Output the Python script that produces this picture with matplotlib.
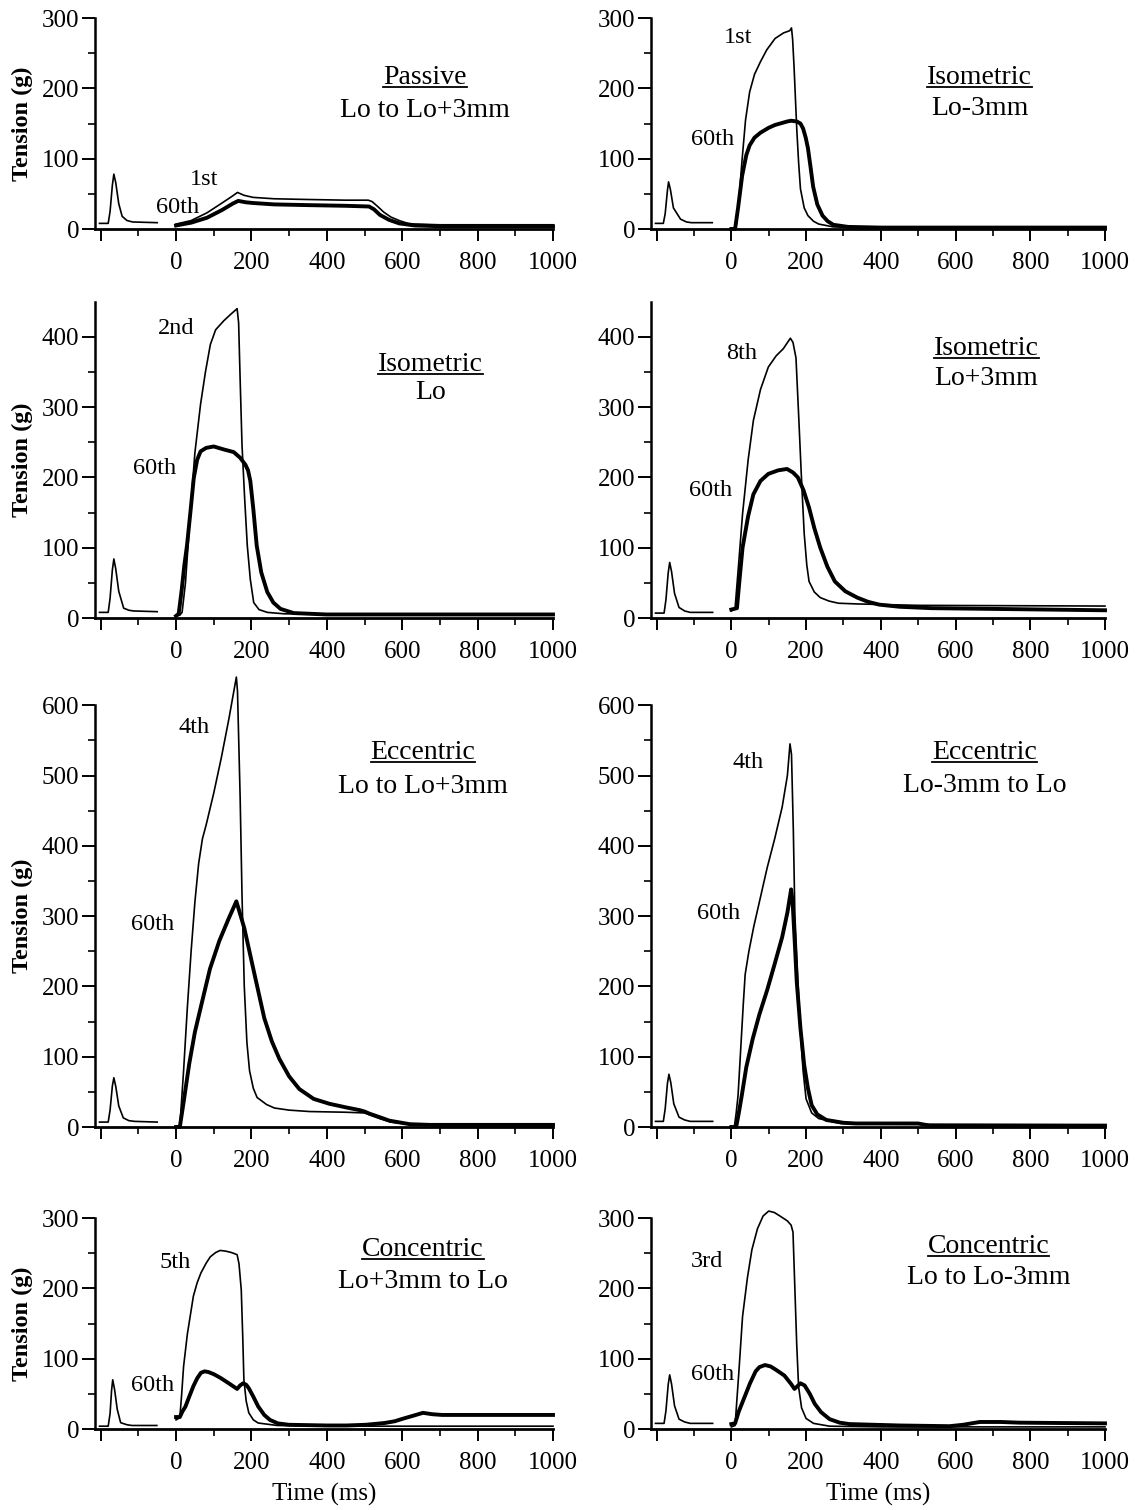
import matplotlib
matplotlib.use("Agg")
import matplotlib.pyplot as plt
from matplotlib.lines import Line2D
from matplotlib.ticker import FixedLocator, NullFormatter

plt.rcParams['font.family'] = ['Liberation Serif', 'DejaVu Serif']

# traces, (time in ms, tension in g)

# passive, Lo to Lo+3mm
passive_twitch = [(-203, 8), (-180, 8), (-175, 25), (-169, 62), (-165, 78), (-160, 66), (-152, 36),
                  (-143, 18), (-130, 12), (-115, 10), (-50, 9)]
passive_1st = [(0, 7), (40, 12), (82, 23), (122, 37), (150, 47), (163, 52), (180, 48), (204, 45),
               (260, 43), (347, 42), (450, 41), (510, 41), (520, 39), (535, 32), (551, 24),
               (570, 17), (592, 12), (615, 8), (633, 7), (700, 6), (1000, 6)]
passive_60th = [(0, 5), (40, 9), (82, 16), (122, 27), (150, 36), (165, 40), (185, 38), (204, 37),
                (260, 35), (347, 34), (450, 33), (512, 32), (525, 28), (541, 20), (565, 13),
                (592, 8), (633, 5), (700, 4), (1000, 4)]

# isometric, Lo-3mm
iso_short_twitch = [(-203, 8), (-182, 8), (-177, 22), (-171, 55), (-168, 67), (-163, 56), (-155, 30),
                    (-136, 14), (-120, 10), (-107, 9), (-51, 9)]
iso_short_1st = [(0, 0), (12, 0), (20, 40), (29, 100), (38, 155), (49, 195), (62, 220), (78, 238),
                 (95, 255), (117, 271), (140, 279), (156, 282), (161, 286), (164, 270), (168, 229),
                 (175, 143), (180, 95), (185, 57), (195, 30), (205, 19), (220, 11), (234, 7),
                 (273, 3), (350, 2), (1000, 2)]
iso_short_60th = [(0, 0), (10, 0), (18, 30), (29, 76), (40, 105), (49, 119), (62, 130), (78, 137),
                  (100, 144), (117, 148), (150, 153), (160, 154), (175, 153), (185, 150), (192, 143),
                  (199, 130), (205, 115), (212, 88), (219, 60), (230, 35), (244, 19), (258, 11),
                  (273, 6), (312, 3), (400, 2), (1000, 2)]

# isometric, Lo
iso_lo_twitch = [(-203, 8), (-180, 8), (-175, 28), (-169, 68), (-165, 84), (-160, 70), (-152, 38),
                 (-139, 14), (-125, 11), (-112, 10), (-50, 9)]
iso_lo_2nd = [(0, 3), (10, 4), (16, 8), (25, 50), (38, 151), (50, 235), (65, 304), (78, 350),
              (91, 389), (105, 410), (127, 423), (145, 432), (162, 440), (166, 420), (170, 340),
              (175, 246), (182, 170), (189, 103), (197, 55), (206, 22), (220, 12), (242, 8),
              (286, 6), (400, 5), (1000, 5)]
iso_lo_60th = [(0, 3), (7, 6), (15, 40), (22, 75), (29, 103), (38, 150), (47, 199), (56, 225),
               (65, 237), (80, 242), (100, 244), (125, 240), (153, 236), (170, 228), (184, 218),
               (191, 210), (197, 195), (205, 155), (214, 103), (226, 65), (242, 37), (258, 22),
               (277, 13), (312, 7), (400, 5), (1000, 5)]

# isometric, Lo+3mm
iso_long_twitch = [(-203, 7), (-180, 7), (-175, 26), (-169, 64), (-165, 79), (-160, 66), (-152, 35),
                   (-140, 15), (-125, 10), (-110, 8), (-50, 8)]
iso_long_8th = [(0, 10), (10, 14), (20, 80), (30, 148), (45, 225), (59, 281), (78, 325), (99, 357),
                (120, 373), (139, 383), (158, 398), (165, 392), (173, 370), (180, 290), (188, 195),
                (195, 120), (202, 75), (208, 52), (222, 37), (238, 29), (262, 24), (287, 21),
                (337, 20), (500, 18), (1000, 17)]
iso_long_60th = [(0, 12), (15, 14), (22, 55), (30, 100), (45, 145), (59, 176), (78, 195), (99, 205),
                 (125, 210), (149, 212), (165, 207), (178, 200), (193, 182), (208, 157), (222, 128),
                 (238, 100), (257, 73), (277, 52), (305, 38), (337, 29), (366, 23), (396, 19),
                 (450, 16), (535, 14), (1000, 11)]

# eccentric, Lo to Lo+3mm
ecc_long_twitch = [(-203, 7), (-180, 7), (-175, 24), (-169, 58), (-165, 70), (-160, 58), (-152, 30),
                   (-140, 13), (-125, 9), (-110, 8), (-50, 7)]
ecc_long_4th = [(0, 0), (10, 0), (20, 80), (30, 170), (40, 250), (50, 320), (60, 375), (70, 410),
                (80, 430), (100, 475), (120, 525), (140, 580), (155, 625), (160, 640), (163, 620),
                (170, 470), (175, 330), (181, 200), (188, 120), (195, 80), (205, 55), (215, 42),
                (240, 32), (261, 27), (300, 24), (354, 22), (450, 21), (500, 20), (510, 18),
                (540, 12), (570, 7), (600, 5), (650, 3), (1000, 3)]
ecc_long_60th = [(0, 0), (10, 0), (20, 35), (35, 90), (50, 135), (69, 178), (90, 225), (115, 265),
                 (140, 297), (155, 315), (160, 321), (165, 312), (181, 283), (207, 220), (234, 155),
                 (254, 122), (274, 97), (300, 72), (327, 54), (365, 40), (407, 33), (450, 28),
                 (487, 24), (500, 22), (513, 19), (540, 14), (566, 9), (620, 4), (673, 3), (1000, 3)]

# eccentric, Lo-3mm to Lo
ecc_short_twitch = [(-203, 8), (-182, 8), (-177, 26), (-171, 62), (-167, 75), (-162, 63), (-154, 33),
                    (-140, 14), (-125, 10), (-110, 8), (-50, 8)]
ecc_short_4th = [(0, 0), (8, 0), (13, 20), (18, 45), (25, 110), (32, 175), (37, 217), (47, 250),
                 (60, 285), (75, 320), (96, 369), (116, 410), (136, 455), (150, 500), (157, 545),
                 (161, 530), (166, 420), (170, 302), (178, 210), (185, 136), (192, 80), (200, 40),
                 (215, 20), (234, 12), (293, 5), (400, 4), (1000, 3)]
ecc_short_60th = [(0, 0), (13, 0), (20, 20), (28, 45), (40, 85), (57, 125), (75, 160), (96, 195),
                  (116, 232), (136, 270), (150, 305), (160, 338), (164, 320), (170, 260), (175, 207),
                  (185, 140), (195, 88), (205, 55), (215, 31), (230, 18), (254, 10), (300, 6),
                  (333, 5), (500, 5), (510, 4), (530, 2), (1000, 2)]

# concentric, Lo+3mm to Lo
con_long_twitch = [(-203, 4), (-180, 4), (-175, 22), (-171, 55), (-168, 70), (-163, 56), (-156, 28),
                   (-147, 9), (-130, 6), (-117, 5), (-51, 5)]
con_long_5th = [(0, 13), (10, 16), (15, 50), (20, 89), (30, 135), (46, 189), (56, 208), (66, 222),
                (80, 236), (91, 245), (105, 251), (117, 254), (132, 253), (147, 251), (162, 248),
                (167, 235), (173, 198), (177, 130), (180, 70), (186, 40), (193, 23), (205, 13),
                (218, 8.5), (269, 5), (400, 4), (1000, 4)]
con_long_60th = [(0, 17), (10, 17), (17, 25), (25, 32), (35, 46), (46, 61), (56, 72), (66, 80),
                 (76, 82), (86, 81), (100, 78), (117, 73), (140, 65), (162, 57), (170, 62), (178, 65),
                 (186, 63), (193, 58), (205, 46), (218, 32), (234, 20), (249, 13), (270, 8),
                 (299, 6), (400, 5), (452, 5), (503, 6), (553, 8.5), (580, 11), (604, 15),
                 (630, 19), (655, 23), (680, 21), (706, 20), (1000, 20)]

# concentric, Lo to Lo-3mm
con_short_twitch = [(-203, 8), (-180, 8), (-175, 26), (-169, 63), (-165, 77), (-160, 64), (-152, 33),
                    (-140, 14), (-125, 10), (-110, 8), (-50, 8)]
con_short_3rd = [(0, 3), (10, 5), (20, 80), (30, 160), (43, 215), (55, 255), (70, 285), (85, 303),
                 (100, 310), (115, 308), (130, 303), (150, 296), (160, 290), (165, 280), (170, 200),
                 (175, 120), (180, 60), (188, 30), (200, 15), (220, 8), (263, 4), (400, 3), (1000, 3)]
con_short_60th = [(0, 7), (10, 8), (20, 25), (35, 45), (50, 65), (65, 82), (75, 88), (90, 91),
                  (105, 89), (120, 84), (142, 76), (160, 64), (169, 57), (175, 60), (185, 65),
                  (196, 62), (210, 50), (223, 36), (240, 24), (263, 14), (290, 9), (316, 7),
                  (450, 5), (584, 4), (620, 6), (665, 10), (720, 10), (772, 9), (1000, 8)]

x_major = [-200, 0, 200, 400, 600, 800, 1000]
x_major_labels = ['', '0', '200', '400', '600', '800', '1000']
x_minor = [-100, 100, 300, 500, 700, 900]

# panel layout: (row, col, ymax, traces, title, subtitle, title x, title y, sub y, labels)
panels = [
    (0, 0, 300, (passive_twitch, passive_1st, passive_60th), 'Passive', 'Lo to Lo+3mm',
     660, 215, 169, [('1st', 74, 71), ('60th', 3, 31)]),
    (0, 1, 300, (iso_short_twitch, iso_short_1st, iso_short_60th), 'Isometric', 'Lo-3mm',
     665, 215, 172, [('1st', 18, 273), ('60th', -50, 127)]),
    (1, 0, 450, (iso_lo_twitch, iso_lo_2nd, iso_lo_60th), 'Isometric', 'Lo',
     675, 360, 321, [('2nd', 0, 412), ('60th', -58, 212)]),
    (1, 1, 450, (iso_long_twitch, iso_long_8th, iso_long_60th), 'Isometric', 'Lo+3mm',
     683, 383, 340, [('8th', 28, 376), ('60th', -56, 181)]),
    (2, 0, 600, (ecc_long_twitch, ecc_long_4th, ecc_long_60th), 'Eccentric', 'Lo to Lo+3mm',
     655, 533, 485, [('4th', 48, 568), ('60th', -61, 288)]),
    (2, 1, 600, (ecc_short_twitch, ecc_short_4th, ecc_short_60th), 'Eccentric', 'Lo-3mm to Lo',
     677, 533, 486, [('4th', 45, 519), ('60th', -33, 304)]),
    (3, 0, 300, (con_long_twitch, con_long_5th, con_long_60th), 'Concentric', 'Lo+3mm to Lo',
     655, 255, 210, [('5th', -3, 237), ('60th', -62, 62)]),
    (3, 1, 300, (con_short_twitch, con_short_3rd, con_short_60th), 'Concentric', 'Lo to Lo-3mm',
     688, 260, 215, [('3rd', -65, 238), ('60th', -51, 77)]),
]

W, H = 1140, 1510
col_px = [(95, 553), (651, 1105)]
row_zero_px = [229, 618, 1127, 1429]
px_per_g = 0.703

fig = plt.figure(figsize=(W / 100, H / 100), dpi=100)
underlined = []

for row, col, ymax, traces, title, sub, tx, ty, sy, labels in panels:
    x0, x1 = col_px[col]
    y_bot = row_zero_px[row]
    y_top = y_bot - ymax * px_per_g
    ax = fig.add_axes([x0 / W, 1 - y_bot / H, (x1 - x0) / W, (y_bot - y_top) / H])
    ax.set_xlim(-215, 1000)
    ax.set_ylim(0, ymax)

    twitch, early, late = traces
    for pts, lw in ((twitch, 1.2), (early, 1.2), (late, 2.8)):
        ax.plot([p[0] for p in pts], [p[1] for p in pts], color='black', lw=lw,
                solid_joinstyle='round', clip_on=False)

    for side in ('top', 'right'):
        ax.spines[side].set_visible(False)
    ax.spines['left'].set_bounds(0, ymax)
    ax.spines['left'].set_linewidth(1.8)
    ax.spines['bottom'].set_linewidth(2.0)

    ax.xaxis.set_major_locator(FixedLocator(x_major))
    ax.set_xticklabels(x_major_labels)
    ax.xaxis.set_minor_locator(FixedLocator(x_minor))
    ax.yaxis.set_major_locator(FixedLocator(list(range(0, ymax + 1, 100))))
    ax.yaxis.set_minor_locator(FixedLocator(list(range(50, ymax, 100))))
    ax.yaxis.set_minor_formatter(NullFormatter())
    ax.tick_params(which='major', direction='out', width=1.4, labelsize=18)
    ax.tick_params(axis='y', which='major', length=9.5, pad=2)
    ax.tick_params(axis='x', which='major', length=8.5, pad=8)
    ax.tick_params(which='minor', direction='out', width=1.2, length=5)

    t = ax.text(tx, ty, title, ha='center', va='center', fontsize=20)
    underlined.append(t)
    ax.text(tx, sy, sub, ha='center', va='center', fontsize=20)
    for lab, lx, ly in labels:
        ax.text(lx, ly, lab, ha='center', va='center', fontsize=17.5)

    if col == 0:
        fig.text(22 / W, 1 - (y_bot + y_top) / 2 / H, 'Tension (g)', rotation=90,
                 ha='center', va='center', fontsize=17.5, fontweight='bold')
    if row == 3:
        fig.text((x0 + x1) / 2 / W, 1 - 1494 / H, 'Time (ms)', ha='center', va='center',
                 fontsize=18)

# underline the contraction type
fig.canvas.draw()
renderer = fig.canvas.get_renderer()
for t in underlined:
    bb = t.get_window_extent(renderer)
    yy = (bb.y0 + 3) / H
    fig.add_artist(Line2D([bb.x0 / W, bb.x1 / W], [yy, yy], color='black', lw=1.3))

fig.savefig('out.png', dpi=100)
